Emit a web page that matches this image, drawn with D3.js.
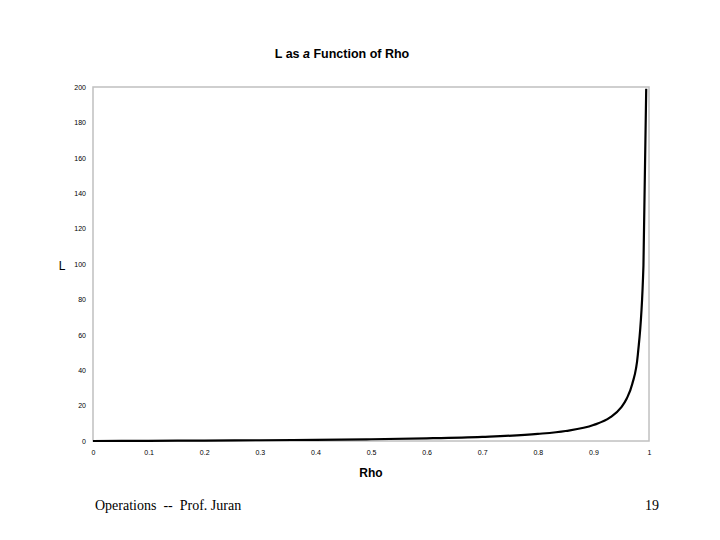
<!DOCTYPE html>
<html><head><meta charset="utf-8">
<script src="https://cdn.jsdelivr.net/npm/d3@7"></script>
<style>body{margin:0;background:#fff}</style>
</head><body>
<svg id="chart" width="720" height="540"></svg>
<script>
// values
var rho = [0, 0.1, 0.2, 0.3, 0.4, 0.5, 0.6, 0.7, 0.8, 0.85, 0.9, 0.93, 0.95, 0.96, 0.97, 0.98, 0.99, 0.995];
var L   = [0, 0.11, 0.25, 0.43, 0.67, 1, 1.5, 2.33, 4, 5.67, 9, 13.3, 19, 24, 32.3, 49, 99, 199];
var xTicks = [0, 0.1, 0.2, 0.3, 0.4, 0.5, 0.6, 0.7, 0.8, 0.9, 1];
var yTicks = [0, 20, 40, 60, 80, 100, 120, 140, 160, 180, 200];

var margin = { top: 87, right: 71, bottom: 99, left: 93 };
var width = 720 - margin.left - margin.right,
    height = 540 - margin.top - margin.bottom;

var svg = d3.select("#chart");
var g = svg.append("g").attr("transform", "translate(" + margin.left + "," + margin.top + ")");

var x = d3.scaleLinear().domain([0, 1]).range([0, width]);
var y = d3.scaleLinear().domain([0, 200]).range([height, 0]);

g.append("rect").attr("width", width).attr("height", height)
  .attr("fill", "none").attr("stroke", "#c0c0c0").attr("stroke-width", 1.5);

var xAxis = g.append("g").attr("transform", "translate(0," + height + ")")
  .call(d3.axisBottom(x).tickValues(xTicks).tickSize(0).tickPadding(9).tickFormat(d3.format("")));
var yAxis = g.append("g")
  .call(d3.axisLeft(y).tickValues(yTicks).tickSize(0).tickPadding(7));
[xAxis, yAxis].forEach(function(a) {
  a.select(".domain").remove();
  a.selectAll("text").attr("font-family", "Liberation Sans, Arial, sans-serif")
    .attr("font-size", 7).attr("fill", "#000");
});

var data = rho.map(function(r, i) { return [r, L[i]]; });
g.append("path").datum(data)
  .attr("fill", "none").attr("stroke", "#000").attr("stroke-width", 2.2)
  .attr("d", d3.line().x(function(d) { return x(d[0]); }).y(function(d) { return y(d[1]); }).curve(d3.curveMonotoneX));

svg.append("text").attr("x", 342).attr("y", 58).attr("text-anchor", "middle")
  .attr("font-family", "Liberation Sans, Arial, sans-serif").attr("font-size", 12.5).attr("font-weight", "bold")
  .html('L as <tspan font-style="italic">a</tspan> Function of Rho');
svg.append("text").attr("x", 371).attr("y", 477).attr("text-anchor", "middle")
  .attr("font-family", "Liberation Sans, Arial, sans-serif").attr("font-size", 12).attr("font-weight", "bold")
  .text("Rho");
svg.append("text").attr("x", 62).attr("y", 270).attr("text-anchor", "middle")
  .attr("font-family", "Liberation Sans, Arial, sans-serif").attr("font-size", 12)
  .text("L");
svg.append("text").attr("x", 95).attr("y", 510)
  .attr("font-family", "Liberation Serif, Times New Roman, serif").attr("font-size", 14)
  .text("Operations\u00a0 --\u00a0 Prof. Juran");
svg.append("text").attr("x", 659).attr("y", 510).attr("text-anchor", "end")
  .attr("font-family", "Liberation Serif, Times New Roman, serif").attr("font-size", 14)
  .text("19");
</script>
</body></html>
